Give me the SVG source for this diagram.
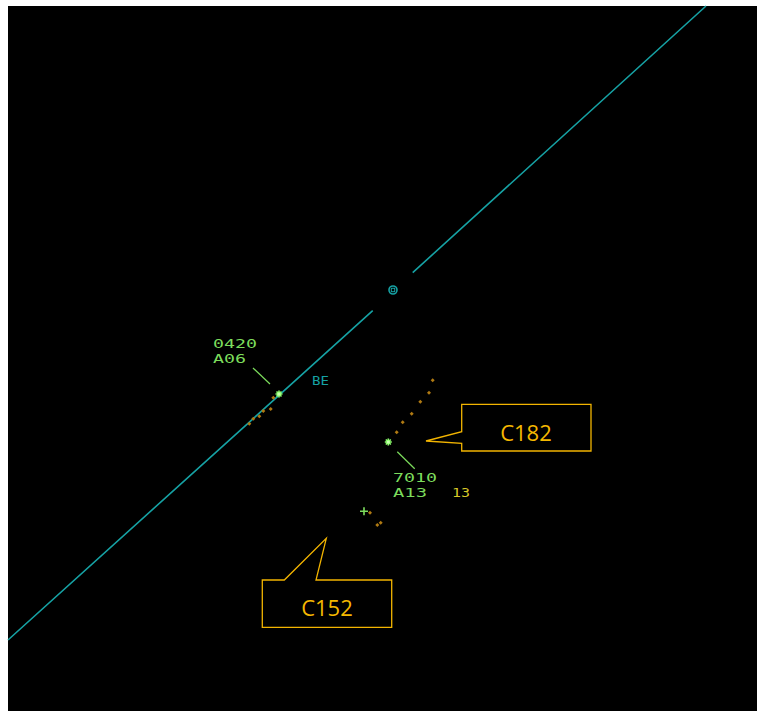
<svg xmlns="http://www.w3.org/2000/svg" width="761" height="711" viewBox="0 0 761 711">
<style>
.radar{fill:none;stroke:#16a2a4;stroke-width:1.6}
.lbl{font-family:"DejaVu Sans Mono","Liberation Mono",monospace;font-size:12.5px;fill:#7cdc5c}
.lead{stroke:#7cdc5c;stroke-width:1.2}
.hist{fill:#b07a12}
.tgt{stroke:#8cff6c;stroke-width:1.6}
.call{fill:#000;stroke:#f2b400;stroke-width:1.3}
.ctext{font-family:"Open Sans","Liberation Sans",sans-serif;font-size:22px;fill:#f5b800;text-anchor:middle}
</style>
<defs>
<path id="dot" d="M0,-2 L2,0 L0,2 L-2,0 Z" class="hist"/>
<g id="star"><path d="M-3.5,0 H3.5 M0,-3.5 V3.5 M-2.5,-2.5 L2.5,2.5 M-2.5,2.5 L2.5,-2.5" class="tgt"/><circle r="1.6" fill="#c8ffb0"/></g>
</defs>
<rect x="0" y="0" width="761" height="711" fill="#fff"/>
<rect x="8" y="6" width="749" height="705" fill="#000"/>
<g id="boundary">
<path class="radar" d="M8,640 L372.7,310.7 M412.7,272.6 L706,6"/>
</g>
<g id="beacon">
<circle cx="393" cy="290" r="4" fill="none" stroke="#16a2a4" stroke-width="1.6"/>
<rect x="391.3" y="288.3" width="3.4" height="3.4" fill="none" stroke="#16a2a4" stroke-width="1"/>
</g>
<text id="be" x="312" y="385" font-family="DejaVu Sans Mono,Liberation Mono,monospace" font-size="12" fill="#16a2a4" textLength="17" lengthAdjust="spacingAndGlyphs">BE</text>
<g id="track1">
<use href="#dot" x="273.3" y="397.7"/>
<use href="#dot" x="270.7" y="409"/>
<use href="#dot" x="263.3" y="411"/>
<use href="#dot" x="259.3" y="416.3"/>
<use href="#dot" x="253.3" y="418.7"/>
<use href="#dot" x="249.3" y="423.7"/>
<use href="#star" x="279" y="394"/>
<line class="lead" x1="253" y1="368" x2="270" y2="384"/>
<text class="lbl" x="213" y="347.5" textLength="44" lengthAdjust="spacingAndGlyphs">0420</text>
<text class="lbl" x="213" y="362.5" textLength="33" lengthAdjust="spacingAndGlyphs">A06</text>
</g>
<g id="track2">
<use href="#dot" x="396.7" y="432.3"/>
<use href="#dot" x="402.7" y="422.3"/>
<use href="#dot" x="411.7" y="413.7"/>
<use href="#dot" x="420.3" y="401.7"/>
<use href="#dot" x="429" y="392.7"/>
<use href="#dot" x="432.7" y="380.3"/>
<use href="#star" x="388.3" y="442"/>
<line class="lead" x1="397.3" y1="451.7" x2="414.7" y2="468.7"/>
<text class="lbl" x="393" y="482" textLength="44" lengthAdjust="spacingAndGlyphs">7010</text>
<text class="lbl" x="393" y="497" textLength="34" lengthAdjust="spacingAndGlyphs">A13</text>
<text class="lbl" x="452" y="497" textLength="18" lengthAdjust="spacingAndGlyphs" style="fill:#d8c828">13</text>
</g>
<g id="track3">
<path d="M360,511.3 H368 M364,507.3 V515.3" stroke="#7cdc5c" stroke-width="1.6"/>
<use href="#dot" x="370" y="512.7"/>
<use href="#dot" x="377.3" y="525"/>
<use href="#dot" x="380.7" y="522.7"/>
</g>
<g id="callout-c182">
<path class="call" d="M461.7,404.3 H591 V451 H461.7 V443.3 L426,441 L461.7,431.7 Z"/>
<text class="ctext" x="526" y="440.5">C182</text>
</g>
<g id="callout-c152">
<path class="call" d="M262.3,580 H284.3 L326.3,538.3 L316,580 H391.7 V627.3 H262.3 Z"/>
<text class="ctext" x="327" y="616">C152</text>
</g>
</svg>
